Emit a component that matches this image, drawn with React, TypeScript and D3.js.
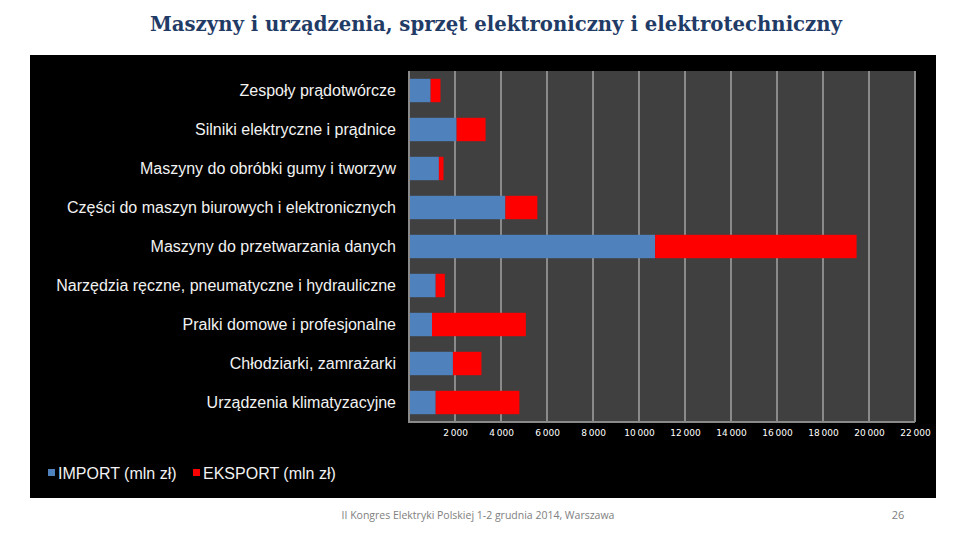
import * as React from "react";
import { useEffect, useRef } from "react";
import { select, scaleLinear, scaleBand, axisBottom, range } from "d3";

const categories = [
    "Zespoły prądotwórcze",
    "Silniki elektryczne i prądnice",
    "Maszyny do obróbki gumy i tworzyw",
    "Części do maszyn biurowych i elektronicznych",
    "Maszyny do przetwarzania danych",
    "Narzędzia ręczne, pneumatyczne i hydrauliczne",
    "Pralki domowe i profesjonalne",
    "Chłodziarki, zamrażarki",
    "Urządzenia klimatyzacyjne",
];
const importValues = [940, 2070, 1300, 4190, 10700, 1160, 1000, 1910, 1160];
const exportValues = [430, 1260, 200, 1390, 8760, 400, 4080, 1240, 3640];
const seriesNames = ["IMPORT (mln zł)", "EKSPORT (mln zł)"];
const seriesColors = ["#4f81bd", "#ff0000"];
const tickValues = range(2000, 22001, 2000);

const width = 960, height = 540;
const plot = {left: 409, right: 915, top: 71, bottom: 422};

const App: React.FC = () => {
    const node = useRef<SVGSVGElement>(null);

    useEffect(() => {
        if (!node.current) return;
        const svg = select(node.current);
        svg.selectAll("*").remove();

        svg.append("rect").attr("width", width).attr("height", height).attr("fill", "#fff");

        svg.append("text")
            .attr("x", 150).attr("y", 31)
            .attr("textLength", 692).attr("lengthAdjust", "spacingAndGlyphs")
            .attr("font-family", "'DejaVu Serif Condensed', 'DejaVu Serif', serif")
            .attr("font-weight", "bold").attr("font-size", 21)
            .attr("fill", "#1f3b66")
            .text("Maszyny i urządzenia, sprzęt elektroniczny i elektrotechniczny");

        svg.append("rect")
            .attr("x", 30).attr("y", 55).attr("width", 906).attr("height", 443)
            .attr("fill", "#000");

        const x = scaleLinear().domain([0, 22000]).range([plot.left, plot.right]);
        const y = scaleBand<string>().domain(categories).range([plot.top, plot.bottom]).paddingInner(0.4).paddingOuter(0.2);

        svg.append("rect")
            .attr("x", plot.left).attr("y", plot.top)
            .attr("width", plot.right - plot.left).attr("height", plot.bottom - plot.top)
            .attr("fill", "#404040");

        svg.append("g").selectAll("line").data(tickValues).join("line")
            .attr("x1", d => x(d)).attr("x2", d => x(d))
            .attr("y1", plot.top).attr("y2", plot.bottom)
            .attr("stroke", "#8a8a8a").attr("stroke-width", 2);

        const rows = svg.append("g").selectAll("g").data(categories).join("g");
        rows.append("rect")
            .attr("x", x(0))
            .attr("y", d => y(d)!)
            .attr("height", y.bandwidth())
            .attr("width", (d, i) => x(importValues[i]) - x(0))
            .attr("fill", seriesColors[0]);
        rows.append("rect")
            .attr("x", (d, i) => x(importValues[i]))
            .attr("y", d => y(d)!)
            .attr("height", y.bandwidth())
            .attr("width", (d, i) => x(importValues[i] + exportValues[i]) - x(importValues[i]))
            .attr("fill", seriesColors[1]);
        rows.append("text")
            .attr("x", plot.left - 13)
            .attr("y", d => y(d)! + y.bandwidth() / 2)
            .attr("dy", "0.36em")
            .attr("text-anchor", "end")
            .attr("font-family", "'Liberation Sans', Arial, sans-serif")
            .attr("font-size", 16)
            .attr("fill", "#f2f2f2")
            .text(d => d);

        // axis frame lines
        svg.append("path")
            .attr("d", `M${plot.left},${plot.top}V${plot.bottom}H${plot.right}`)
            .attr("fill", "none").attr("stroke", "#8a8a8a").attr("stroke-width", 2);

        const axis = svg.append("g")
            .attr("transform", `translate(0,${plot.bottom})`)
            .call(axisBottom(x).tickValues(tickValues).tickSize(0).tickPadding(8)
                .tickFormat(d => String(d).replace(/(\d)(?=(\d{3})+$)/g, "$1\u2009")));
        axis.select(".domain").remove();
        axis.selectAll("text")
            .attr("font-family", "'DejaVu Sans', sans-serif")
            .attr("font-size", 9)
            .attr("fill", "#fff");

        const legend = svg.append("g").selectAll("g").data(seriesNames).join("g")
            .attr("transform", (d, i) => `translate(${i === 0 ? 48 : 193},473)`);
        legend.append("rect")
            .attr("x", 0).attr("y", -4).attr("width", 7).attr("height", 7)
            .attr("fill", (d, i) => seriesColors[i]);
        legend.append("text")
            .attr("x", 10).attr("y", 0).attr("dy", "0.36em")
            .attr("font-family", "'Liberation Sans', Arial, sans-serif")
            .attr("font-size", 16)
            .attr("fill", "#f2f2f2")
            .text(d => d);

        svg.append("text")
            .attr("x", 478).attr("y", 519)
            .attr("text-anchor", "middle")
            .attr("font-family", "'Open Sans', sans-serif")
            .attr("font-size", 10.5)
            .attr("fill", "#808080")
            .text("II Kongres Elektryki Polskiej 1-2 grudnia 2014, Warszawa");
        svg.append("text")
            .attr("x", 898).attr("y", 519)
            .attr("text-anchor", "middle")
            .attr("font-family", "'Open Sans', sans-serif")
            .attr("font-size", 11)
            .attr("fill", "#808080")
            .text("26");
    }, []);

    return <svg width={width} height={height} ref={node}
                style={{position: "absolute", left: 0, top: 0, display: "block"}}/>;
};

export default App;
